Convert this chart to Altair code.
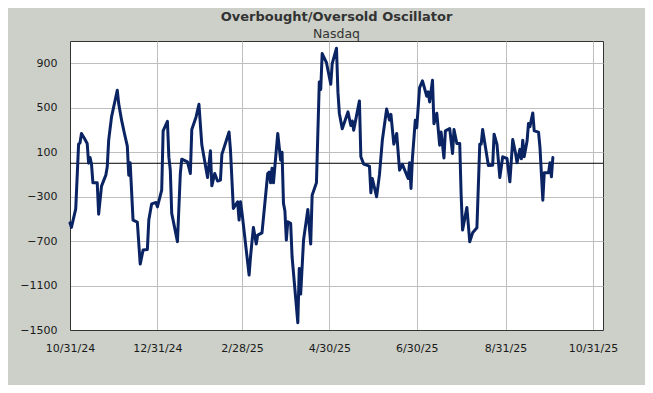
import altair as alt
import pandas as pd

title_text = "Overbought/Oversold Oscillator"
subtitle_text = "Nasdaq"

dates = [
    "2024-10-31", "2024-11-01", "2024-11-04", "2024-11-06", "2024-11-07", "2024-11-08",
    "2024-11-10", "2024-11-12", "2024-11-13", "2024-11-14", "2024-11-15", "2024-11-16",
    "2024-11-19", "2024-11-20", "2024-11-22", "2024-11-25", "2024-11-26", "2024-11-27",
    "2024-11-29", "2024-12-01", "2024-12-03", "2024-12-04", "2024-12-06", "2024-12-08",
    "2024-12-10", "2024-12-11", "2024-12-12", "2024-12-14", "2024-12-17", "2024-12-19",
    "2024-12-21", "2024-12-24", "2024-12-25", "2024-12-27", "2024-12-30", "2024-12-31",
    "2025-01-03", "2025-01-04", "2025-01-07", "2025-01-08", "2025-01-09", "2025-01-10",
    "2025-01-14", "2025-01-16", "2025-01-17", "2025-01-21", "2025-01-23", "2025-01-24",
    "2025-01-27", "2025-01-29", "2025-01-31", "2025-02-04", "2025-02-06", "2025-02-07",
    "2025-02-09", "2025-02-11", "2025-02-13", "2025-02-14", "2025-02-19", "2025-02-20",
    "2025-02-22", "2025-02-25", "2025-02-26", "2025-02-27", "2025-02-28", "2025-03-05",
    "2025-03-06", "2025-03-08", "2025-03-10", "2025-03-11", "2025-03-14", "2025-03-18",
    "2025-03-19", "2025-03-20", "2025-03-21", "2025-03-22", "2025-03-25", "2025-03-27",
    "2025-03-28", "2025-03-29", "2025-03-30", "2025-03-31", "2025-04-01", "2025-04-03",
    "2025-04-04", "2025-04-08", "2025-04-09", "2025-04-10", "2025-04-12", "2025-04-15",
    "2025-04-17", "2025-04-18", "2025-04-21", "2025-04-23", "2025-04-24", "2025-04-25",
    "2025-04-28", "2025-05-01", "2025-05-02", "2025-05-05", "2025-05-06", "2025-05-07",
    "2025-05-09", "2025-05-13", "2025-05-15", "2025-05-16", "2025-05-17", "2025-05-21",
    "2025-05-22", "2025-05-24", "2025-05-28", "2025-05-29", "2025-05-30", "2025-06-02",
    "2025-06-04", "2025-06-06", "2025-06-09", "2025-06-11", "2025-06-12", "2025-06-14",
    "2025-06-16", "2025-06-18", "2025-06-20", "2025-06-24", "2025-06-25", "2025-06-26",
    "2025-06-27", "2025-06-29", "2025-06-30", "2025-07-02", "2025-07-04", "2025-07-07",
    "2025-07-08", "2025-07-09", "2025-07-11", "2025-07-12", "2025-07-14", "2025-07-16",
    "2025-07-17", "2025-07-19", "2025-07-20", "2025-07-23", "2025-07-25", "2025-07-26",
    "2025-07-28", "2025-07-30", "2025-07-31", "2025-08-01", "2025-08-04", "2025-08-06",
    "2025-08-08", "2025-08-11", "2025-08-13", "2025-08-14", "2025-08-15", "2025-08-19",
    "2025-08-22", "2025-08-23", "2025-08-25", "2025-08-27", "2025-08-29", "2025-09-01",
    "2025-09-03", "2025-09-05", "2025-09-07", "2025-09-08", "2025-09-10", "2025-09-11",
    "2025-09-12", "2025-09-13", "2025-09-15", "2025-09-16", "2025-09-17", "2025-09-19",
    "2025-09-20", "2025-09-23", "2025-09-24", "2025-09-26", "2025-09-27", "2025-09-30",
    "2025-10-01", "2025-10-02", "2025-10-03",
]

values = [
    -536, -577, -410, 172, 184, 268,
    225, 178, 1, 52, -8, -176,
    -176, -458, -206, -107, -32, 208,
    417, 538, 657, 535, 388, 268,
    154, -107, 4, -511, -529, -907,
    -781, -775, -511, -365, -353, -392,
    -242, 291, 378, 55, -62, -451,
    -705, -92, 37, 13, -92, 304,
    417, 531, 166, -128, 112, -203,
    -92, -160, -152, 80, 282, 118,
    -406, -347, -511, -347, -440, -1006,
    -840, -577, -727, -646, -626, -92,
    -80, -176, -44, -176, 268, 28,
    100, -361, -430, -691, -526, -540,
    -841, -1435, -946, -1177, -691, -415,
    -727, -287, -176, 732, 664, 987,
    905, 711, 897, 1035, 640, 448,
    310, 462, 340, 380, 298, 561,
    58, -8, -26, -266, -137, -302,
    -100, 208, 488, 388, 440, 172,
    268, -62, -10, -137, 4, -226,
    47, 388, 320, 680, 741, 603,
    642, 552, 747, 355, 450, 163,
    282, 47, 291, 313, 88, 304,
    178, 178, -287, -601, -397, -707,
    -626, -581, 172, 172, 304, -20,
    -17, 262, 170, -128, 58, 43,
    -167, 214, 88, 5, 125, 40,
    208, 58, 200, 358, 330, 453,
    291, 280, 145, -332, -86, -86,
    4, -122, 52,
]

y_ticks = [-1500, -1100, -700, -300, 100, 500, 900]
y_domain = [-1500, 1100]
x_ticks = ["2024-10-31", "2024-12-31", "2025-02-28", "2025-04-30",
           "2025-06-30", "2025-08-31", "2025-10-31"]
x_domain = ["2024-10-31", "2025-11-07"]
zero_level = [0]


def dt(s):
    y, m, d = map(int, s.split("-"))
    return alt.DateTime(year=y, month=m, date=d)


df = pd.DataFrame({"date": dates, "value": values})

x_enc = alt.X(
    "t:T",
    title=None,
    scale=alt.Scale(domain=[dt(s) for s in x_domain]),
    axis=alt.Axis(values=[dt(s) for s in x_ticks], format="%-m/%-d/%y",
                  labelPadding=12, labelFlush=False, labelOverlap=False),
)
y_enc = alt.Y(
    "value:Q",
    title=None,
    scale=alt.Scale(domain=y_domain, nice=False, zero=False),
    axis=alt.Axis(values=y_ticks, format="d", labelPadding=13, labelFlush=False),
)

line = (
    alt.Chart(df)
    .transform_calculate(t="timeParse(datum.date, '%Y-%m-%d')")
    .mark_line(color="#0A2463", strokeWidth=3, strokeJoin="round", strokeCap="round")
    .encode(x=x_enc, y=y_enc)
)

zero = (
    alt.Chart(pd.DataFrame({"v": zero_level}))
    .mark_rule(color="#000000", strokeWidth=1)
    .encode(y=alt.Y("v:Q", scale=alt.Scale(domain=y_domain, nice=False, zero=False)))
)

chart = (
    alt.layer(zero, line)
    .properties(
        width=533,
        height=289,
        autosize=alt.AutoSizeParams(type="none"),
        padding={"left": 62, "top": 33, "right": 42, "bottom": 55},
        title=alt.TitleParams(
            text=title_text,
            subtitle=subtitle_text,
            font="DejaVu Sans",
            fontSize=13,
            fontWeight="bold",
            color="#333333",
            subtitleFont="DejaVu Sans",
            subtitleFontSize=12.5,
            subtitleColor="#333333",
            subtitlePadding=4,
            anchor="middle",
            offset=1,
        ),
    )
    .configure(background="#CCD0C8")
    .configure_view(fill="white", stroke="#333333", strokeWidth=1)
    .configure_axis(
        labelFont="DejaVu Sans",
        labelFontSize=11,
        labelColor="#1A1A1A",
        ticks=False,
        domainColor="#333333",
        domainWidth=1,
        gridColor="#BFBFBF",
        gridWidth=1,
        grid=True,
    )
)

chart.save("out.html", embed_options={"renderer": "svg", "actions": False})
